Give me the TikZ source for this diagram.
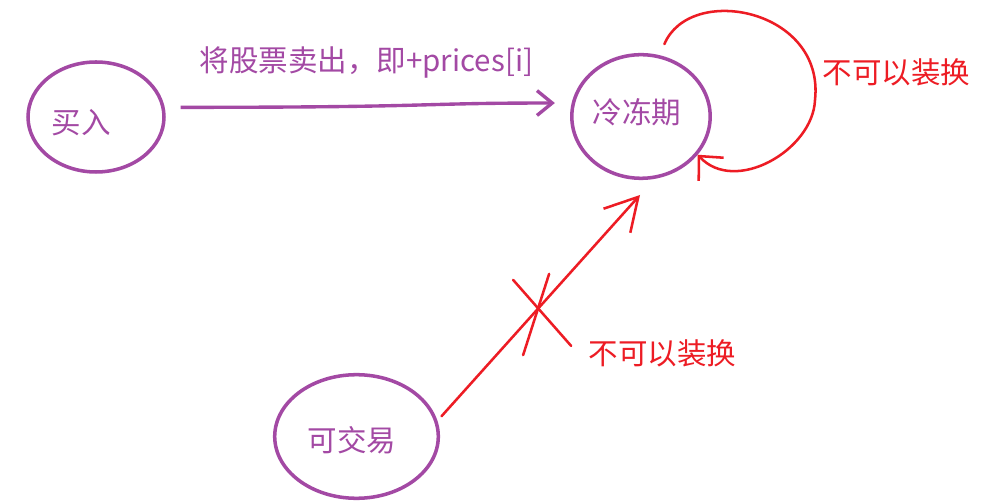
\documentclass[tikz,border=0pt]{standalone}
\usepackage{fontspec}
\setmainfont{Noto Sans CJK SC}
\usetikzlibrary{arrows.meta,shapes.geometric}
\definecolor{Plum}{HTML}{A349A4}
\definecolor{PaintRed}{HTML}{ED1C24}

\begin{document}
\begin{tikzpicture}[font=\fontsize{21pt}{25pt}\selectfont,state/.style={ellipse,draw=Plum,line width=2.5pt,inner sep=0pt},statetext/.style={text=Plum,inner sep=0pt},note/.style={text=PaintRed,inner sep=0pt},sell/.style={draw=Plum,line width=2.4pt,-{Straight Barb[length=3.8mm,width=6.2mm]}},ban/.style={draw=PaintRed,line width=1.8pt,line cap=round}]
\useasboundingbox (0,0) rectangle (24.65,12.525);
\fill[white] (0,0) rectangle (24.65,12.525);
\node[state,minimum width=3.40cm,minimum height=2.75cm] (buy) at (2.40,9.60){};
\node[state,minimum width=3.46cm,minimum height=3.09cm] (cool) at (16.025,9.6125){};
\node[state,minimum width=4.09cm,minimum height=3.09cm] (trade) at (8.9125,1.6125){};
\node[statetext] (buyt) at (2.03,9.45){买入};
\node[statetext] (coolt) at (15.93,9.72){冷冻期};
\node[statetext] (tradet) at (8.80,1.52){可交易};
% sell: buy -> cooldown
\draw[sell,shorten <=0.4cm,shorten >=0.42cm] (buy.8) .. controls +(7,0) and +(-4,0) .. (cool.169);
\node[statetext] (selllab) at (9.16,10.975){将股票卖出，即+prices[i]};
% forbidden moves
\coordinate (cooltip) at (16.0,7.65);
\draw[ban,-{Straight Barb[length=8mm,width=9mm]},shorten <=0.15cm] (trade.11) -- coordinate[pos=0.5] (cross) (cooltip);
\draw[ban] ([shift={(-0.64,0.70)}]cross) -- ([shift={(0.81,-0.95)}]cross);
\draw[ban] ([shift={(0.26,0.85)}]cross) -- ([shift={(-0.39,-1.18)}]cross);
\draw[ban,-{Straight Barb[length=4.5mm,width=8.5mm]},shorten <=0.3cm] (cool.73) .. controls (17.25,12.95) and (20.625,12.3) .. (20.375,10.025) .. controls (20.325,8.775) and (18.375,7.65) .. (cool.-34);
\node[note] (coolnote) at (22.41,10.71){不可以装换};
\node[note] (tradenote) at (16.56,3.69){不可以装换};
\end{tikzpicture}
\end{document}
